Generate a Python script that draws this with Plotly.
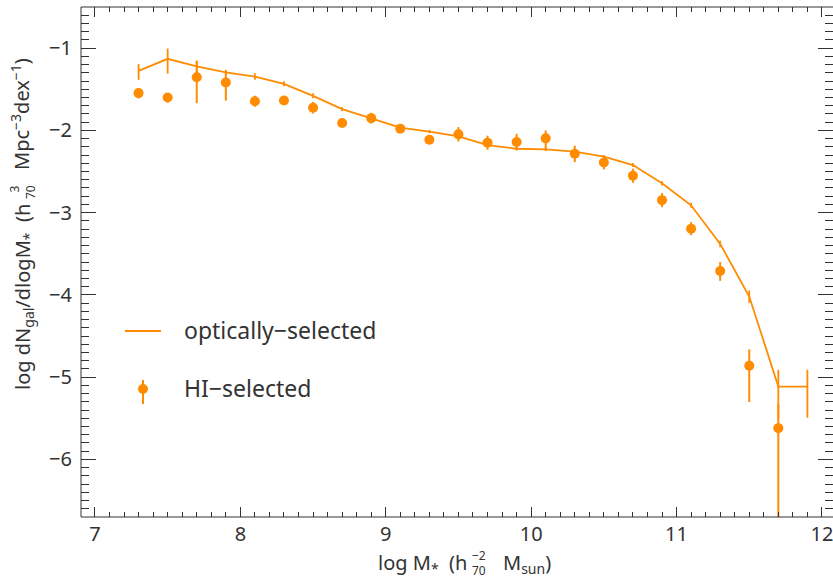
import plotly.graph_objects as go

# Stellar mass function: optically-selected vs HI-selected galaxies
opt_logm = [7.3, 7.5, 7.7, 7.9, 8.1, 8.3, 8.5, 8.7, 8.9, 9.1, 9.3, 9.5,
            9.7, 9.9, 10.1, 10.3, 10.5, 10.7, 10.9, 11.1, 11.3, 11.5, 11.7, 11.9]
opt_phi = [-1.276, -1.130, -1.223, -1.296, -1.345, -1.434, -1.580, -1.742,
           -1.855, -1.966, -2.015, -2.072, -2.180, -2.223, -2.232, -2.258,
           -2.320, -2.421, -2.644, -2.911, -3.380, -4.020, -5.114, -5.114]
opt_err_hi = [0.081, 0.125, 0.070, 0.032, 0.040, 0.030, 0.030, 0.025, 0.020,
              0.020, 0.020, 0.020, 0.020, 0.020, 0.020, 0.020, 0.020, 0.025,
              0.025, 0.030, 0.040, 0.075, 0.203, 0.203]
opt_err_lo = [0.109, 0.180, 0.080, 0.035, 0.040, 0.030, 0.030, 0.025, 0.020,
              0.020, 0.020, 0.020, 0.020, 0.020, 0.020, 0.020, 0.020, 0.025,
              0.025, 0.030, 0.040, 0.075, 0.380, 0.380]

hi_logm = [7.3, 7.5, 7.7, 7.9, 8.1, 8.3, 8.5, 8.7, 8.9, 9.1, 9.3, 9.5,
           9.7, 9.9, 10.1, 10.3, 10.5, 10.7, 10.9, 11.1, 11.3, 11.5, 11.7]
hi_phi = [-1.547, -1.600, -1.353, -1.418, -1.645, -1.637, -1.724, -1.910,
          -1.851, -1.979, -2.113, -2.048, -2.149, -2.141, -2.097, -2.285,
          -2.390, -2.552, -2.848, -3.195, -3.709, -4.862, -5.620]
hi_err_hi = [0.060, 0.050, 0.200, 0.145, 0.067, 0.055, 0.070, 0.045, 0.065,
             0.055, 0.055, 0.088, 0.085, 0.100, 0.097, 0.100, 0.085, 0.085,
             0.085, 0.080, 0.110, 0.200, 0.300]
hi_err_lo = [0.065, 0.060, 0.316, 0.220, 0.067, 0.055, 0.070, 0.045, 0.065,
             0.055, 0.055, 0.088, 0.085, 0.100, 0.146, 0.100, 0.085, 0.085,
             0.085, 0.080, 0.120, 0.440, 2.000]

x_ticks = [7, 8, 9, 10, 11, 12]
y_ticks = [-1, -2, -3, -4, -5, -6]
y_tick_text = ["\u22121", "\u22122", "\u22123", "\u22124", "\u22125", "\u22126"]

ORANGE = "#FF8C00"
INK = "#333333"
FONT = "Noto Sans"

W, H = 833, 578
ML, MR, MT, MB = 81, 0, 7, 61
PW, PH = W - ML - MR, H - MT - MB


def px(x):
    return (x - ML) / PW


def py(y):
    return 1 - (y - MT) / PH


fig = go.Figure()

fig.add_trace(go.Scatter(
    x=opt_logm, y=opt_phi, mode="lines",
    line=dict(color=ORANGE, width=1.8),
    error_y=dict(type="data", symmetric=False, array=opt_err_hi,
                 arrayminus=opt_err_lo, color=ORANGE, thickness=1.8, width=0),
    showlegend=False,
))

fig.add_trace(go.Scatter(
    x=hi_logm, y=hi_phi, mode="markers",
    marker=dict(color=ORANGE, size=10, line=dict(width=0)),
    error_y=dict(type="data", symmetric=False, array=hi_err_hi,
                 arrayminus=hi_err_lo, color=ORANGE, thickness=2, width=0),
    showlegend=False,
))

annotations = []
shapes = []

# Frame: left, bottom and top edges (the right edge sits just past the page)
for x0, x1, y0, y1 in [(0, 0, 0, 1), (0, 1, 0, 0), (0, 1, 1, 1)]:
    shapes.append(dict(type="line", xref="paper", yref="paper",
                       x0=x0, x1=x1, y0=y0, y1=y1,
                       line=dict(color=INK, width=1)))

# Legend drawn by hand inside the plot area
shapes.append(dict(type="line", xref="paper", yref="paper",
                   x0=px(125), x1=px(161), y0=py(331), y1=py(331),
                   line=dict(color=ORANGE, width=1.8)))
shapes.append(dict(type="line", xref="paper", yref="paper",
                   x0=px(143), x1=px(143), y0=py(380), y1=py(404),
                   line=dict(color=ORANGE, width=2)))
shapes.append(dict(type="circle", xref="paper", yref="paper",
                   x0=px(138), x1=px(148), y0=py(384), y1=py(394),
                   fillcolor=ORANGE, line=dict(width=0)))
annotations.append(dict(text="optically\u2212selected", xref="paper", yref="paper",
                        x=px(182), y=py(330), xanchor="left", yanchor="middle",
                        showarrow=False, font=dict(family=FONT, size=23, color=INK)))
annotations.append(dict(text="HI\u2212selected", xref="paper", yref="paper",
                        x=px(182), y=py(388), xanchor="left", yanchor="middle",
                        showarrow=False, font=dict(family=FONT, size=23, color=INK)))

# x-axis title with stacked sub/superscript on h
tf = dict(family=FONT, size=20, color=INK)
sf = dict(family=FONT, size=12, color=INK)
annotations.append(dict(text="log M<sub>*</sub>  (h", xref="paper", yref="paper",
                        x=px(469), y=py(563), xanchor="right", yanchor="middle",
                        showarrow=False, font=tf))
annotations.append(dict(text="\u22122", xref="paper", yref="paper",
                        x=px(470), y=py(555), xanchor="left", yanchor="middle",
                        showarrow=False, font=sf))
annotations.append(dict(text="70", xref="paper", yref="paper",
                        x=px(470), y=py(570), xanchor="left", yanchor="middle",
                        showarrow=False, font=sf))
annotations.append(dict(text="M<sub>sun</sub>)", xref="paper", yref="paper",
                        x=px(501), y=py(563), xanchor="left", yanchor="middle",
                        showarrow=False, font=tf))

# y-axis title, rotated, with stacked sub/superscript on h
annotations.append(dict(text="log dN<sub>gal</sub>/dlogM<sub>*</sub>  (h",
                        xref="paper", yref="paper", textangle=-90,
                        x=px(23), y=py(202), xanchor="center", yanchor="top",
                        showarrow=False, font=tf))
annotations.append(dict(text="3", xref="paper", yref="paper", textangle=-90,
                        x=px(14), y=py(195), xanchor="center", yanchor="bottom",
                        showarrow=False, font=sf))
annotations.append(dict(text="70", xref="paper", yref="paper", textangle=-90,
                        x=px(30), y=py(201), xanchor="center", yanchor="bottom",
                        showarrow=False, font=sf))
annotations.append(dict(text="Mpc<sup>\u22123</sup>dex<sup>\u22121</sup>)",
                        xref="paper", yref="paper", textangle=-90,
                        x=px(21), y=py(172), xanchor="center", yanchor="bottom",
                        showarrow=False, font=tf))

fig.update_layout(
    width=W, height=H,
    margin=dict(l=ML, r=MR, t=MT, b=MB, pad=0),
    paper_bgcolor="white", plot_bgcolor="white",
    font=dict(family=FONT, size=20, color=INK),
    annotations=annotations, shapes=shapes,
    showlegend=False,
)

fig.update_xaxes(
    range=[6.904, 12.076], tickvals=x_ticks, ticktext=[str(v) for v in x_ticks],
    ticks="inside", ticklen=10, tickwidth=1, tickcolor=INK,
    showline=False, mirror="ticks",
    showgrid=False, zeroline=False, ticklabelstandoff=3,
    ticklabeloverflow="allow",
    tickfont=dict(family=FONT, size=20, color=INK),
    minor=dict(dtick=0.1, tick0=0, ticks="inside", ticklen=5,
               tickcolor=INK, tickwidth=1, showgrid=False),
)
fig.update_yaxes(
    range=[-6.7, -0.5], tickvals=y_ticks, ticktext=y_tick_text,
    ticks="inside", ticklen=15, tickwidth=1, tickcolor=INK,
    showline=False, mirror="ticks",
    showgrid=False, zeroline=False, ticklabelstandoff=8,
    ticklabeloverflow="allow",
    tickfont=dict(family=FONT, size=20, color=INK),
    minor=dict(dtick=0.1, tick0=0, ticks="inside", ticklen=8,
               tickcolor=INK, tickwidth=1, showgrid=False),
)

fig.write_html("out.html")
